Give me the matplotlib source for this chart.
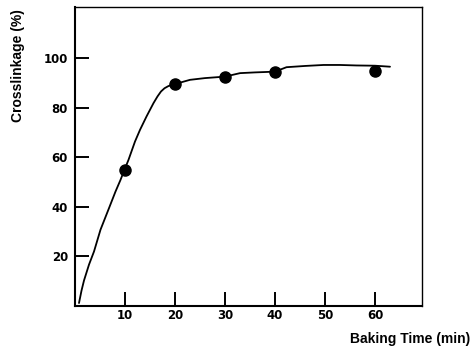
import matplotlib
matplotlib.use("Agg")
import matplotlib.pyplot as plt

# Measured crosslinkage vs baking time
time_pts = [10, 20, 30, 40, 60]
crosslink_pts = [55, 89.6, 92.6, 94.6, 94.9]

# Hand-fitted trend curve
curve_t = [0.8, 1.3, 1.8, 2.8, 3.8, 5.1, 6.8, 8.1, 9.1, 9.8, 10.7, 12.0, 13.0,
           14.3, 15.7, 16.5, 17.2, 17.9, 18.7, 20.0, 23.0, 26.0, 30.0, 33.0,
           36.0, 40.0, 42.3, 46.0, 49.7, 53.0, 56.3, 60.0, 63.0]
curve_y = [1.2, 6.2, 10.3, 16.7, 22.0, 30.8, 39.5, 46.2, 50.9, 54.5, 59.0, 66.4,
           71.1, 76.5, 81.9, 84.6, 86.6, 87.9, 88.8, 89.6, 91.3, 92.0, 92.6,
           94.0, 94.3, 94.6, 96.4, 96.9, 97.3, 97.3, 97.1, 97.0, 96.6]

x_ticks = [10, 20, 30, 40, 50, 60]
y_ticks = [20, 40, 60, 80, 100]

fig = plt.figure(figsize=(4.77, 3.52), dpi=100)
W, H = 477, 352
left, right, top, bottom = 75, 422, 7, 306
ax = fig.add_axes([left / W, 1 - bottom / H, (right - left) / W, (bottom - top) / H])

ax.plot(curve_t, curve_y, color="black", lw=1.3, solid_capstyle="round",
        solid_joinstyle="round")
ax.plot(time_pts, crosslink_pts, "o", color="black", ms=8)

ax.set_xlim(0, 69.4)
ax.set_ylim(0, 120.7)
ax.set_xticks(x_ticks)
ax.set_yticks(y_ticks)
ax.tick_params(direction="in", length=10, width=1.4,
               labelsize=8.5, colors="black")
ax.tick_params(axis="x", pad=2)
ax.tick_params(axis="y", pad=5)
for lab in ax.get_xticklabels() + ax.get_yticklabels():
    lab.set_fontfamily("DejaVu Sans")
    lab.set_fontweight("bold")

for side in ("left", "bottom"):
    ax.spines[side].set_linewidth(1.5)
for side in ("top", "right"):
    ax.spines[side].set_linewidth(1.0)

fig.text(18 / W, 1 - 66 / H, "Crosslinkage (%)", rotation=90,
         ha="center", va="center", fontsize=10, fontweight="bold",
         family="Liberation Sans")
fig.text(410 / W, 1 - 339 / H, "Baking Time (min)",
         ha="center", va="center", fontsize=10, fontweight="bold",
         family="Liberation Sans")

fig.savefig("out.png", dpi=100)
